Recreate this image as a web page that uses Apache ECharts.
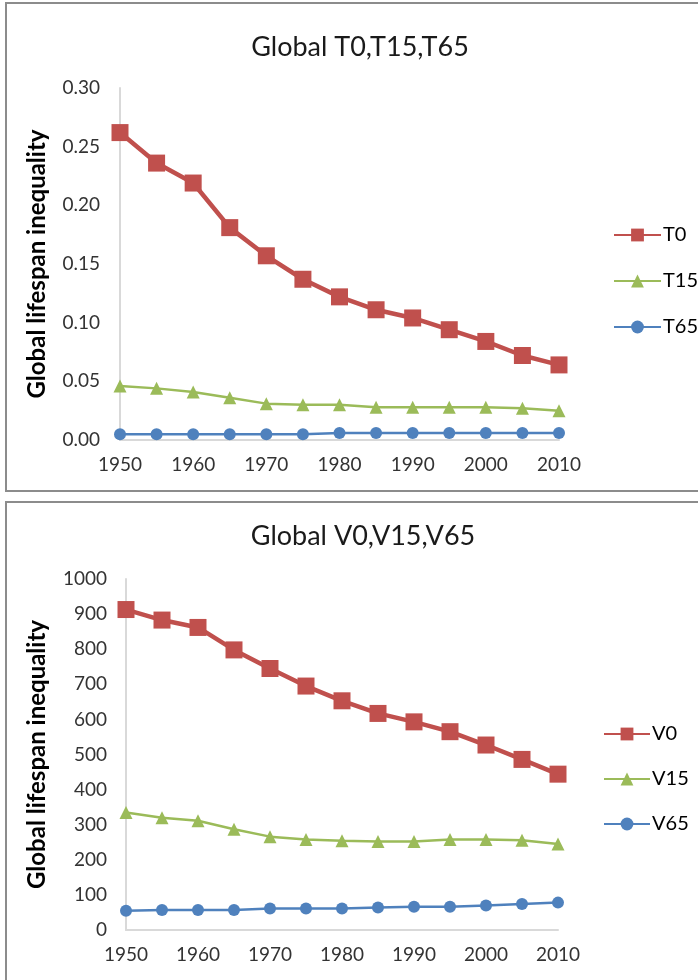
<!DOCTYPE html>
<html><head><meta charset="utf-8">
<script src="https://cdn.jsdelivr.net/npm/echarts@6/dist/echarts.min.js"></script>
<style>html,body{margin:0;padding:0;background:#fff}#c{width:698px;height:980px}</style>
</head><body><div id="c"></div>
<script>
const years = ['1950','1955','1960','1965','1970','1975','1980','1985','1990','1995','2000','2005','2010'];
const T0  = [0.262,0.236,0.219,0.181,0.157,0.137,0.122,0.111,0.104,0.094,0.084,0.072,0.064];
const T15 = [0.046,0.044,0.041,0.036,0.031,0.030,0.030,0.028,0.028,0.028,0.028,0.027,0.025];
const T65 = [0.005,0.005,0.005,0.005,0.005,0.005,0.006,0.006,0.006,0.006,0.006,0.006,0.006];
const V0  = [913,883,862,798,745,695,653,617,593,565,527,486,444];
const V15 = [335,320,311,287,266,258,254,252,252,258,258,256,245];
const V65 = [55,57,57,57,61,61,61,64,66,66,70,74,78];
const topTitle = 'Global T0,T15,T65';
const botTitle = 'Global V0,V15,V65';
const yName = 'Global lifespan inequality';

const RED='#c0504d', GREEN='#9bbb59', BLUE='#4f81bd';
const FONT='Lato';
const chart = echarts.init(document.getElementById('c'));

function xAxis(gi){
  return {type:'category', gridIndex:gi, data:years, boundaryGap:false,
    axisLine:{lineStyle:{color:'#d9d9d9', width:2}}, axisTick:{show:false},
    axisLabel:{interval:1, color:'#333', fontFamily:FONT, fontSize:19, margin:15}};
}
function yAxis(gi, max, interval, fmt, gap, margin){
  return {type:'value', gridIndex:gi, min:0, max:max, interval:interval,
    name:yName, nameLocation:'middle', nameRotate:90, nameGap:gap,
    nameTextStyle:{fontFamily:FONT, fontSize:24, fontWeight:'bold', color:'#000'},
    axisLine:{show:true, lineStyle:{color:'#d9d9d9', width:2}}, axisTick:{show:false},
    splitLine:{show:false},
    axisLabel:{color:'#333', fontFamily:FONT, fontSize:19, margin:margin, formatter:fmt}};
}
function ser(name, data, gi, color, symbol, size, width){
  return {name:name, type:'line', xAxisIndex:gi, yAxisIndex:gi, data:data,
    symbol:symbol, symbolSize:size, lineStyle:{color:color, width:width},
    itemStyle:{color:color}, animation:false, z: symbol==='rect'?3:2};
}

chart.setOption({
  animation:false,
  graphic:[
    {type:'rect', shape:{x:6, y:3, width:720, height:488}, style:{fill:'none', stroke:'#8c8c8c', lineWidth:2}},
    {type:'rect', shape:{x:6, y:502, width:720, height:500}, style:{fill:'none', stroke:'#8c8c8c', lineWidth:2}}
  ],
  title:[
    {text:topTitle, left:355, top:29, textAlign:'center', textStyle:{fontFamily:FONT, fontSize:27, fontWeight:'normal', color:'#1a1a1a'}},
    {text:botTitle, left:358, top:518, textAlign:'center', textStyle:{fontFamily:FONT, fontSize:27, fontWeight:'normal', color:'#1a1a1a'}}
  ],
  legend:[
    {orient:'vertical', left:608, top:220, itemWidth:47, itemHeight:16, itemGap:26,
      data:['T0','T15','T65'], textStyle:{fontFamily:FONT, fontSize:20, color:'#000', padding:[0,0,0,-3]}},
    {orient:'vertical', left:598, top:719, itemWidth:46, itemHeight:16, itemGap:25,
      data:['V0','V15','V65'], textStyle:{fontFamily:FONT, fontSize:20, color:'#000', padding:[0,0,0,-3]}}
  ],
  grid:[
    {left:120, top:88, width:439, height:352},
    {left:126, top:579, width:432, height:351}
  ],
  xAxis:[xAxis(0), xAxis(1)],
  yAxis:[
    yAxis(0, 0.30, 0.05, v=>v.toFixed(2), 71, 20),
    yAxis(1, 1000, 100, v=>String(v), 77, 19)
  ],
  series:[
    ser('T0', T0, 0, RED, 'rect', 17, 4.5),
    ser('T15', T15, 0, GREEN, 'triangle', 13, 2.5),
    ser('T65', T65, 0, BLUE, 'circle', 12, 2.5),
    ser('V0', V0, 1, RED, 'rect', 17, 4.5),
    ser('V15', V15, 1, GREEN, 'triangle', 13, 2.5),
    ser('V65', V65, 1, BLUE, 'circle', 12, 2.5)
  ]
});
</script></body></html>
